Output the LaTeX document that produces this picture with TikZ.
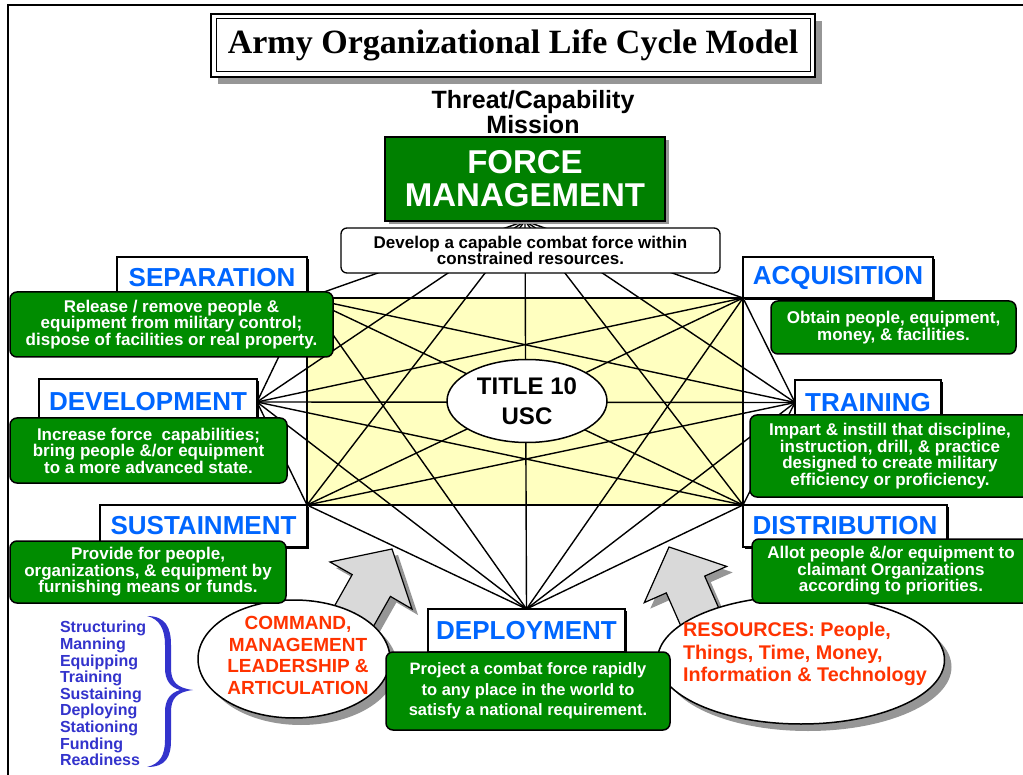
\documentclass[tikz,border=0pt]{standalone}
\usepackage{fontspec}
\setmainfont{Liberation Sans}
\newfontfamily\titlefont{Liberation Serif}
\usetikzlibrary{shapes.geometric,shadows}
\definecolor{fmgreen}{RGB}{0,128,0}
\definecolor{bxgreen}{RGB}{0,140,0}
\definecolor{lblblue}{RGB}{0,102,255}
\definecolor{redtxt}{RGB}{255,51,0}
\definecolor{listblue}{RGB}{51,51,204}
\definecolor{pale}{RGB}{255,255,192}
\definecolor{shadowgray}{RGB}{150,150,150}
\pgfdeclarelayer{bg}
\pgfsetlayers{bg,main}
\begin{document}
\begin{tikzpicture}[x=1pt,y=-1pt,
  every node/.style={inner sep=0pt, outer sep=0pt},
  lbl/.style={draw=black, line width=1.3pt, fill=white, text=lblblue,
    font=\fontsize{26}{26}\selectfont\bfseries,
    drop shadow={shadow xshift=2pt, shadow yshift=-2pt, fill=black, opacity=1}},
  gbox/.style={draw=black, line width=1.5pt, fill=bxgreen, rounded corners=7pt,
    text=white, align=center, font=\fontsize{17}{16.5}\selectfont\bfseries},
  bigell/.style={ellipse, draw=black, line width=1.5pt, fill=white,
    drop shadow={shadow xshift=7pt, shadow yshift=-7pt, fill=shadowgray, opacity=1}},
  link/.style={line width=1.4pt, draw=black},
  bigarrow/.style={draw=black, line width=1.2pt, fill=black!15},
  arrowshadow/.style={fill=shadowgray},
  redtext/.style={text=redtxt, font=\fontsize{19}{21.5}\selectfont\bfseries}
]
\useasboundingbox (0,0) rectangle (1023,775);
% frame
\draw[line width=2.5pt] (8,775) -- (8,5) -- (1023,5);

% title
\node[draw=black, line width=2.5pt, fill=white, minimum width=604, minimum height=63,
  drop shadow={shadow xshift=7pt, shadow yshift=-7pt, fill=shadowgray, opacity=1},
  font=\titlefont\bfseries\fontsize{34}{34}\selectfont] (title) at (513,45.5)
  {Army Organizational Life Cycle Model};
\draw[line width=1pt] ([xshift=5pt,yshift=-5pt]title.north west) rectangle ([xshift=-5pt,yshift=5pt]title.south east);

\node[align=center, font=\fontsize{25}{22}\selectfont\bfseries] (threat) at (533,112)
  {Threat/Capability\\Mission};

% force management
\node[draw=black, line width=2pt, fill=fmgreen, minimum width=280, minimum height=84,
  text=white, align=center, font=\fontsize{33}{33}\selectfont\bfseries,
  drop shadow={shadow xshift=4pt, shadow yshift=-3pt, fill=shadowgray, opacity=1}] (force) at (525,179)
  {FORCE\\MANAGEMENT};

\node[draw=black, line width=1.3pt, fill=white, rounded corners=6pt, minimum width=379, minimum height=45,
  align=center, font=\fontsize{17}{16}\selectfont\bfseries] (goal) at (530.5,250.5)
  {Develop a capable combat force within\\constrained resources.};

% label boxes
\node[lbl, minimum width=190, minimum height=41] (sepL) at (212,277.5) {SEPARATION};
\node[lbl, minimum width=190, minimum height=41] (acqL) at (838,277.5) {ACQUISITION};
\node[lbl, minimum width=218, minimum height=46] (devL) at (148,402) {DEVELOPMENT};
\node[lbl, minimum width=146, minimum height=45] (trnL) at (868,402.5) {TRAINING};
\node[lbl, minimum width=207, minimum height=42] (susL) at (203.5,526) {SUSTAINMENT};
\node[lbl, minimum width=204, minimum height=42] (disL) at (845,526) {DISTRIBUTION};
\node[lbl, minimum width=197, minimum height=43] (depL) at (526.5,630.5) {DEPLOYMENT};

% network on background
\begin{pgfonlayer}{bg}
  \fill[white] (0,0) rectangle (1023,775);
  \fill[pale] (sepL.south east) rectangle (disL.north west);
  \foreach \a [count=\i] in {force.south, sepL.south east, acqL.south west, devL.east, trnL.west, susL.north east, disL.north west, depL.north} {
    \foreach \b [count=\j] in {force.south, sepL.south east, acqL.south west, devL.east, trnL.west, susL.north east, disL.north west, depL.north} {
      \ifnum\j>\i \draw[link] (\a) -- (\b); \fi
    }
  }
  \draw[line width=2pt] (sepL.south east) rectangle (disL.north west);
\end{pgfonlayer}

\node[ellipse, draw=black, line width=1.5pt, fill=white, minimum width=160, minimum height=83,
  align=center, font=\fontsize{24}{30}\selectfont\bfseries] (usc) at (527,401) {TITLE 10\\USC};

% big arrows
\fill[arrowshadow] (398,555) -- (418,615) -- (396.4,602.4) -- (374,642) -- (336,620) -- (358.2,580.6) -- (336,568) -- cycle;
\filldraw[bigarrow] (392,549) -- (412,609) -- (390.4,596.4) -- (368,636) -- (330,614) -- (352.2,574.6) -- (330,562) -- cycle;
\fill[arrowshadow] (675,553) -- (732.7,572.4) -- (710.7,582.1) -- (728.8,623.3) -- (690.4,640.1) -- (672.3,598.9) -- (650.3,608.6) -- cycle;
\filldraw[bigarrow] (669,547) -- (726.7,566.4) -- (704.7,576.1) -- (722.8,617.3) -- (684.4,634.1) -- (666.3,592.9) -- (644.3,602.6) -- cycle;

% ellipses
\node[bigell, minimum width=192, minimum height=118] (cmdE) at (294,659) {};
\node[redtext, align=center] (cmdT) at (298,655.5) {COMMAND,\\MANAGEMENT\\LEADERSHIP \&\\ARTICULATION};
\node[bigell, minimum width=287, minimum height=128] (resE) at (801,660) {};
\node[redtext, align=left, anchor=west, font=\fontsize{19.8}{22.5}\selectfont\bfseries] (resT) at (683,654)
  {RESOURCES: People,\\Things, Time, Money,\\Information \& Technology};

% green boxes
\node[gbox, minimum width=323, minimum height=65] (sepG) at (171.5,324.5)
  {Release / remove people \&\\equipment from military control;\\dispose of facilities or real property.};
\node[gbox, minimum width=245, minimum height=53] (acqG) at (893.5,327.5)
  {Obtain people, equipment,\\money, \& facilities.};
\node[gbox, minimum width=277, minimum height=65] (devG) at (148.5,450.5)
  {Increase force\ \ capabilities;\\bring people \&/or equipment\\to a more advanced state.};
\node[gbox, minimum width=276, minimum height=62] (susG) at (148,572)
  {Provide for people,\\organizations, \& equipment by\\furnishing means or funds.};
\node[gbox, minimum width=280, minimum height=82] (trnG) at (890,456)
  {Impart \& instill that discipline,\\instruction, drill, \& practice\\designed to create military\\efficiency or proficiency.};
\node[gbox, minimum width=278, minimum height=64] (disG) at (891,571)
  {Allot people \&/or equipment to\\claimant Organizations\\according to priorities.};
\node[gbox, minimum width=284, minimum height=78, font=\fontsize{16.5}{20.5}\selectfont\bfseries] (depG) at (528,691)
  {Project a combat force rapidly\\to any place in the world to\\satisfy a national requirement.};

% list and brace
\node[anchor=west, align=left, text=listblue, font=\fontsize{16}{16.6}\selectfont\bfseries] (tasks) at (60,693.5)
  {Structuring\\Manning\\Equipping\\Training\\Sustaining\\Deploying\\Stationing\\Funding\\Readiness};
\fill[listblue]
  (147,616) .. controls (166,616) and (171,628) .. (171,645) -- (171,668)
  .. controls (171,682) and (177,688) .. (193,690)
  .. controls (177,692) and (171,698) .. (171,712) -- (171,740)
  .. controls (171,757) and (166,767) .. (147,767)
  .. controls (160,764) and (165,755) .. (165,740) -- (165,712)
  .. controls (165,700) and (170,693) .. (180,690)
  .. controls (170,687) and (165,680) .. (165,668) -- (165,645)
  .. controls (165,630) and (160,619) .. (147,616) -- cycle;
\end{tikzpicture}
\end{document}
